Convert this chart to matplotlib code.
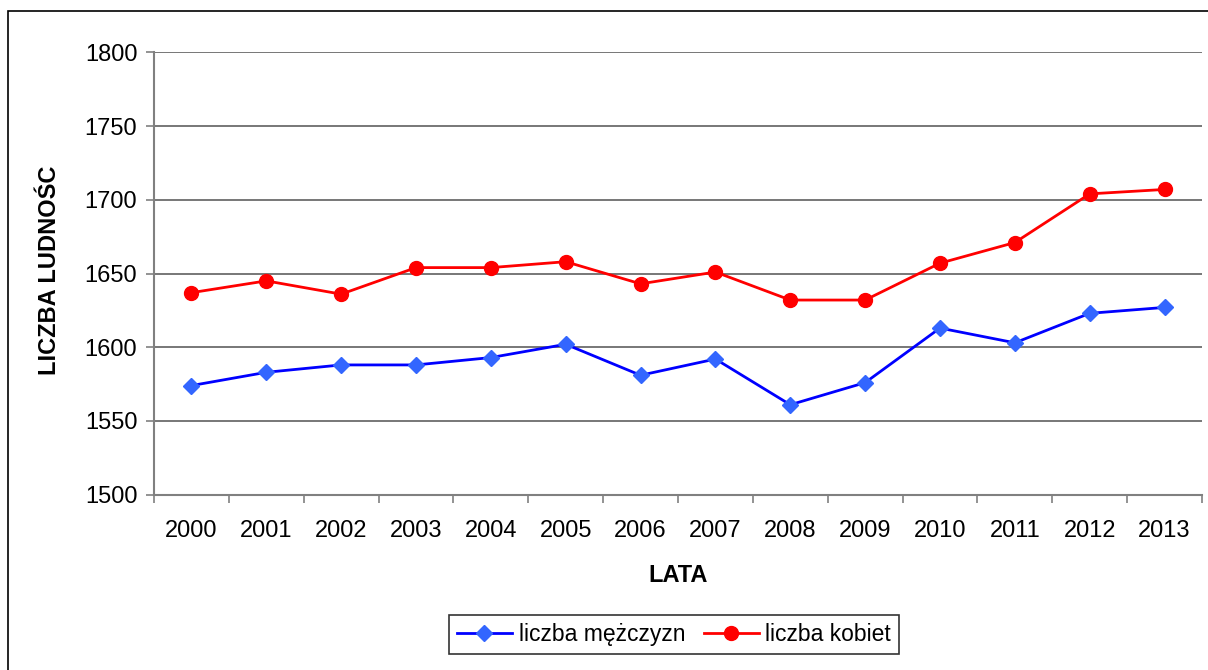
import matplotlib
matplotlib.use("Agg")
import matplotlib.pyplot as plt
from matplotlib.patches import Rectangle
from matplotlib.lines import Line2D
import numpy as np

plt.rcParams['font.family'] = ['Liberation Sans', 'DejaVu Sans']

years = ['2000', '2001', '2002', '2003', '2004', '2005', '2006',
         '2007', '2008', '2009', '2010', '2011', '2012', '2013']
men = [1574, 1583, 1588, 1588, 1593, 1602, 1581, 1592, 1561, 1576, 1613, 1603, 1623, 1627]
women = [1637, 1645, 1636, 1654, 1654, 1658, 1643, 1651, 1632, 1632, 1657, 1671, 1704, 1707]
y_ticks = [1500, 1550, 1600, 1650, 1700, 1750, 1800]

W, H = 1208, 670
fig = plt.figure(figsize=(W / 100, H / 100), dpi=100)

# outer chart border
fig.patches.append(Rectangle((8 / W, -0.1), 1.2, (H - 10.7) / H + 0.1,
                             transform=fig.transFigure, fill=False,
                             edgecolor='black', linewidth=1.2))

left, right, top, bottom = 154, 1202, 52.3, 494.7
ax = fig.add_axes([left / W, (H - bottom) / H, (right - left) / W, (bottom - top) / H])

x = np.arange(len(years))
ax.plot(x, men, color='#0000FF', linewidth=2, marker='D', markersize=8,
        markerfacecolor='#3366FF', markeredgecolor='#3366FF', zorder=3)
ax.plot(x, women, color='#FF0000', linewidth=2, marker='o', markersize=10,
        markerfacecolor='#FF0000', markeredgecolor='#FF0000', zorder=3)

ax.set_xlim(-0.5, len(years) - 0.5)
ax.set_ylim(1500, 1800)
ax.set_yticks(y_ticks)
ax.set_yticklabels([str(v) for v in y_ticks], fontsize=17)
ax.set_xticks(x)
ax.set_xticklabels(years, fontsize=17)
ax.set_xticks(np.arange(len(years) + 1) - 0.5, minor=True)
ax.tick_params(axis='x', which='major', length=0, pad=18)
ax.tick_params(axis='x', which='minor', length=6, width=1.2, color='#808080', direction='out')
ax.tick_params(axis='y', which='major', length=6, width=1.2, color='#808080', direction='out', pad=6)

ax.grid(axis='y', color='#606060', linewidth=1.2)
ax.set_axisbelow(True)
for s in ['top', 'right']:
    ax.spines[s].set_visible(False)
for s in ['left', 'bottom']:
    ax.spines[s].set_color('#808080')
    ax.spines[s].set_linewidth(1.5)

fig.text(678 / W, 1 - 575 / H, 'LATA', fontsize=17, fontweight='bold',
         ha='center', va='center')
fig.text(50 / W, 1 - 270 / H, 'LICZBA LUDNOŚC', fontsize=17, fontweight='bold',
         ha='center', va='center', rotation=90)

handles = [
    Line2D([], [], color='#0000FF', linewidth=2, marker='D', markersize=8,
           markerfacecolor='#3366FF', markeredgecolor='#3366FF'),
    Line2D([], [], color='#FF0000', linewidth=2, marker='o', markersize=10,
           markerfacecolor='#FF0000', markeredgecolor='#FF0000'),
]
leg = fig.legend(handles, ['liczba mężczyzn', 'liczba kobiet'], ncol=2,
                 loc='center', bbox_to_anchor=(674 / W, 1 - 634.5 / H),
                 fontsize=16.5, frameon=True, fancybox=False, edgecolor='black',
                 handlelength=2.4, columnspacing=0.8, handletextpad=0.3,
                 borderpad=0.35, borderaxespad=0)
leg.get_frame().set_linewidth(1.2)

fig.savefig('out.png', dpi=100)
